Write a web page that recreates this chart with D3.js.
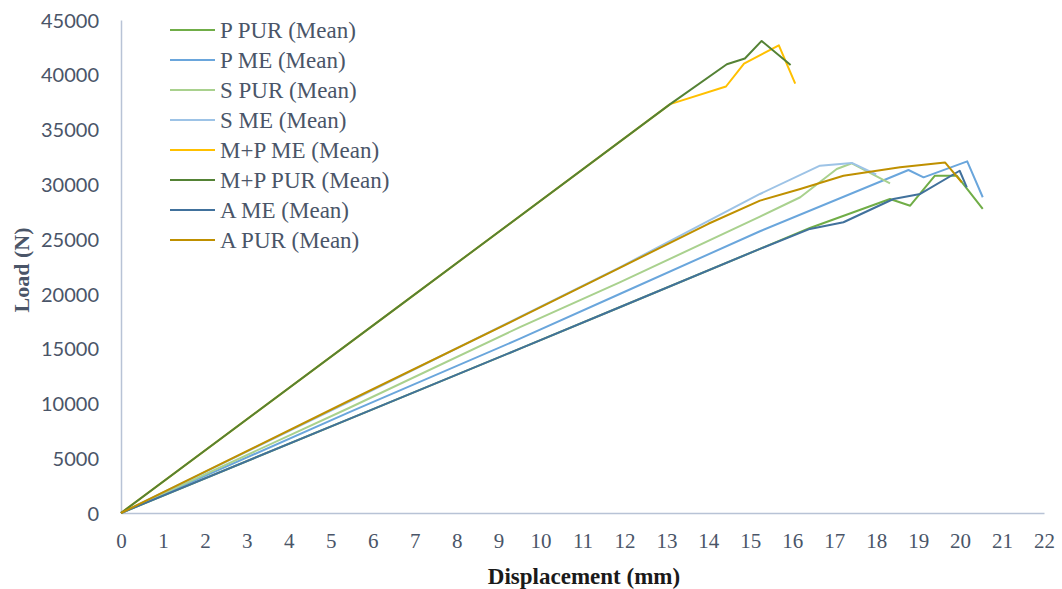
<!DOCTYPE html>
<html>
<head>
<meta charset="utf-8">
<script src="https://cdn.jsdelivr.net/npm/d3@7"></script>
<style>
  html, body { margin: 0; padding: 0; background: #fff; }
  svg { display: block; }
</style>
</head>
<body>
<svg id="chart" width="1062" height="589"></svg>
<script>
// ---- data (displacement mm, load N) ----
const seriesNames = ["P PUR (Mean)", "P ME (Mean)", "S PUR (Mean)", "S ME (Mean)",
                     "M+P ME (Mean)", "M+P PUR (Mean)", "A ME (Mean)", "A PUR (Mean)"];
const pPur  = [[0,0],[5.46,8620],[9.51,15000],[11.9,18800],[15.23,24110],[16.42,26020],[18.33,28660],[18.81,28050],[19.40,30790],[19.92,30790],[20.54,27750]];
const pMe   = [[0,0],[5.46,9230],[9.51,15910],[11.9,20010],[15.23,25720],[18.77,31310],[19.13,30640],[20.17,32100],[20.54,28820]];
const sPur  = [[0,0],[5.46,9630],[9.51,16970],[11.9,21070],[15.23,27050],[16.19,28820],[17.06,31400],[17.42,31920],[18.33,30090]];
const sMe   = [[0,0],[5.46,10200],[9.51,17900],[11.9,22450],[15.23,29120],[16.66,31700],[17.42,31950],[18.0,30900]];
const mpMe  = [[0,0],[6.65,18950],[13.09,37320],[14.42,38930],[14.85,41020],[15.68,42690],[16.07,39200]];
const mpPur = [[0,0],[6.65,18950],[13.09,37320],[14.44,40960],[14.87,41480],[15.27,43090],[15.96,40900]];
const aMe   = [[0,0],[5.46,8620],[9.51,15000],[11.9,18800],[15.23,24110],[16.42,25930],[17.22,26540],[18.41,28660],[19.05,29120],[19.99,31240],[20.16,29730]];
const aPur  = [[0,0],[5.46,10290],[9.51,17850],[11.9,22400],[14.0,26400],[15.23,28510],[16.19,29580],[17.22,30790],[18.57,31550],[19.64,32000],[20.04,30180]];
const seriesData = [pPur, pMe, sPur, sMe, mpMe, mpPur, aMe, aPur];
const seriesColors = ["#70AD47", "#6AA6DC", "#A9D18E", "#9DC3E6", "#FFC000", "#548235", "#41719C", "#BF9000"];
const xTicks = d3.range(0, 23, 1);
const yTicks = [0, 5000, 10000, 15000, 20000, 25000, 30000, 35000, 40000, 45000];

// ---- layout ----
const svg = d3.select("#chart");
const x = d3.scaleLinear().domain([0, 22]).range([121, 1044]);
const y = d3.scaleLinear().domain([0, 45000]).range([513, 20]);
const textColor = "#4A5568";
const axisColor = "#B8C3D6";

// axes
const xAxis = svg.append("g").attr("transform", `translate(0,${y(0)})`)
  .call(d3.axisBottom(x).tickValues(xTicks).tickSize(0).tickPadding(0).tickFormat(d3.format("d")));
xAxis.select(".domain").attr("stroke", axisColor).attr("stroke-width", 1.5);
xAxis.selectAll("text")
  .attr("dy", null).attr("y", 35)
  .attr("fill", textColor)
  .style("font-family", "'Liberation Serif', 'Times New Roman', serif")
  .style("font-size", "21px");

const yAxis = svg.append("g").attr("transform", `translate(${x(0)},0)`)
  .call(d3.axisLeft(y).tickValues(yTicks).tickSize(0).tickPadding(22).tickFormat(d3.format("d")));
yAxis.select(".domain").attr("stroke", axisColor).attr("stroke-width", 1.5);
yAxis.selectAll("text")
  .attr("dy", "0.36em")
  .attr("fill", textColor)
  .style("font-family", "Lato, 'Open Sans', sans-serif")
  .style("font-size", "20px");

// series lines
const line = d3.line().x(d => x(d[0])).y(d => y(d[1]));
svg.append("g").selectAll("path")
  .data(seriesData)
  .join("path")
  .attr("d", line)
  .attr("fill", "none")
  .attr("stroke", (d, i) => seriesColors[i])
  .attr("stroke-width", 2)
  .attr("stroke-linejoin", "round");

// axis titles
svg.append("text")
  .attr("x", 584).attr("y", 584)
  .attr("text-anchor", "middle")
  .attr("fill", "#1a1a1a")
  .style("font-family", "'Liberation Serif', 'Times New Roman', serif")
  .style("font-weight", "bold")
  .style("font-size", "23px")
  .text("Displacement (mm)");

svg.append("text")
  .attr("transform", "translate(29,270) rotate(-90)")
  .attr("text-anchor", "middle")
  .attr("fill", textColor)
  .style("font-family", "'Liberation Serif', 'Times New Roman', serif")
  .style("font-weight", "bold")
  .style("font-size", "22px")
  .text("Load (N)");

// legend
const legend = svg.append("g");
const rows = legend.selectAll("g").data(seriesNames).join("g")
  .attr("transform", (d, i) => `translate(170,${30 + i * 30})`);
rows.append("line")
  .attr("x1", 0).attr("x2", 45).attr("y1", 0).attr("y2", 0)
  .attr("stroke", (d, i) => seriesColors[i]).attr("stroke-width", 2);
rows.append("text")
  .attr("x", 50).attr("y", 0).attr("dy", "0.35em")
  .attr("fill", textColor)
  .style("font-family", "'Liberation Serif', 'Times New Roman', serif")
  .style("font-size", "23px")
  .text(d => d);
</script>
</body>
</html>
